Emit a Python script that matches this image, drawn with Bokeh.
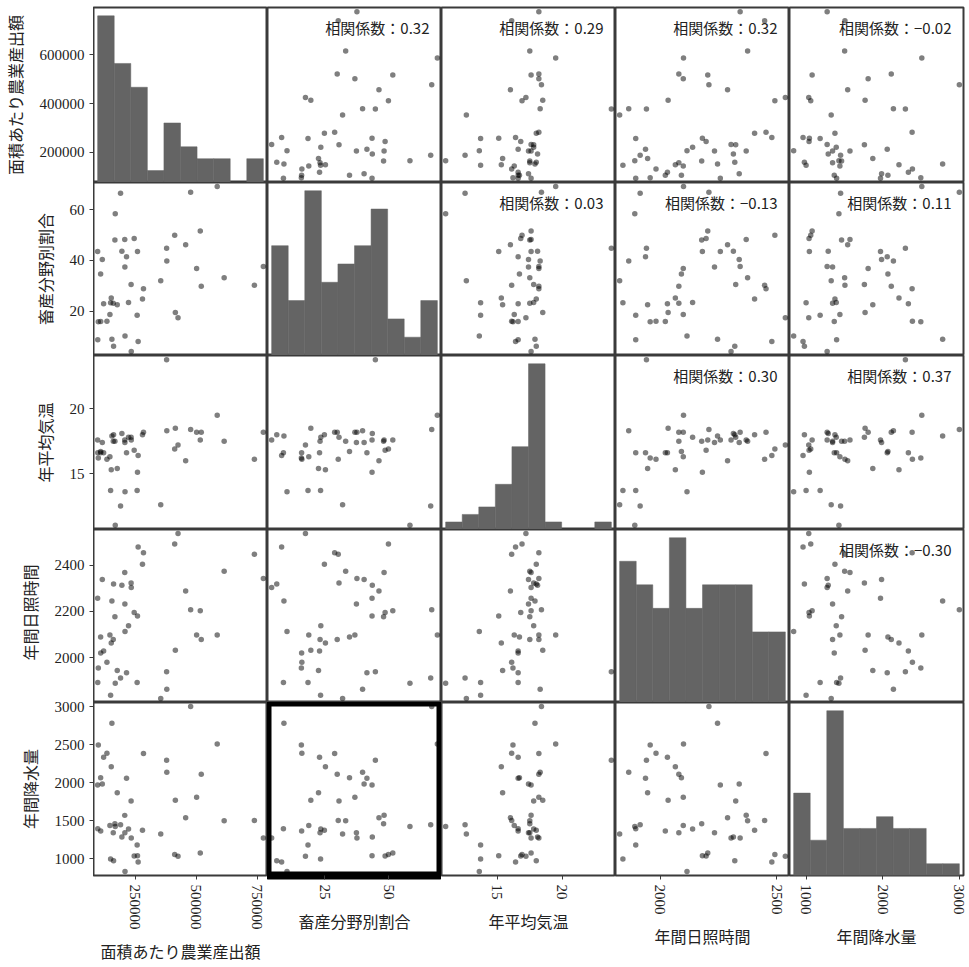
import numpy as np
from bokeh.plotting import figure
from bokeh.layouts import gridplot, row, column
from bokeh.models import Range1d, FixedTicker, PrintfTickFormatter, Label
from bokeh.embed import file_html
from bokeh.resources import INLINE

# ---------------- data ----------------
labels = ["面積あたり農業産出額", "畜産分野別割合", "年平均気温", "年間日照時間", "年間降水量"]

output_per_area = [94300, 94800, 97000, 106600, 106900, 113400, 118900, 132500, 144800, 147600,
                   150300, 153000, 158500, 159800, 165300, 166700, 174900, 188500, 194000, 205800,
                   206300, 206900, 213100, 221300, 231900, 232600, 244600, 256800, 258200, 260900,
                   278700, 282800, 353800, 378000, 378800, 411200, 413900, 424900, 456300, 476800,
                   501400, 516400, 520500, 586100, 614700, 739000, 775900]
livestock_share = [43.5, 8.9, 15.9, 34.7, 16.0, 40.4, 23.0, 16.1, 18.8, 23.4,
                   25.3, 9.1, 23.2, 6.3, 48.0, 58.3, 22.6, 66.4, 43.6, 48.2,
                   37.4, 10.3, 41.5, 23.5, 30.6, 4.3, 48.6, 18.5, 43.5, 8.2,
                   24.9, 28.9, 32.0, 44.8, 39.8, 49.9, 19.6, 17.5, 46.2, 66.8,
                   36.8, 51.6, 29.9, 69.0, 33.2, 30.3, 37.6]
avg_temp = [17.6, 16.6, 16.2, 16.7, 16.6, 17.4, 16.6, 16.1, 16.3, 13.7,
            15.3, 17.9, 17.5, 18.0, 17.5, 11.0, 15.4, 12.5, 18.1, 17.6,
            17.4, 13.6, 16.6, 17.8, 17.8, 17.6, 16.8, 13.7, 15.1, 16.4,
            18.0, 18.2, 12.6, 23.8, 18.3, 16.9, 18.5, 17.2, 16.0, 18.4,
            18.2, 17.6, 18.2, 19.5, 17.5, 16.1, 18.2]
sunshine = [2257, 1894, 1956, 2090, 2021, 2338, 2030, 1981, 2098, 1839,
            2064, 2245, 2079, 2319, 2177, 1890, 1945, 1913, 2313, 2368,
            2232, 2114, 1936, 2138, 2323, 2303, 2196, 1894, 2180, 2478,
            2404, 2453, 1825, 1940, 1864, 2491, 2033, 2536, 2288, 2208,
            2098, 2203, 2079, 2099, 2374, 2447, 2342]
precipitation = [1971, 1396, 2499, 2068, 1365, 1985, 2336, 2389, 1439, 996,
                 2213, 2785, 1343, 974, 1461, 1426, 1870, 1448, 1286, 1571,
                 1343, 833, 2059, 1391, 1760, 1272, 1035, 1180, 1039, 956,
                 1374, 2385, 1325, 2297, 2140, 1057, 1769, 1031, 1541, 3004,
                 1809, 1075, 2112, 2512, 1501, 1505, 1272]

series = [output_per_area, livestock_share, avg_temp, sunshine, precipitation]

x_ticks = [[250000, 500000, 750000], [25, 50], [15, 20], [2000, 2500], [1000, 2000, 3000]]
y_ticks = [[200000, 400000, 600000], [20, 40, 60], [15, 20], [2000, 2200, 2400],
           [1000, 1500, 2000, 2500, 3000]]

corr_prefix = "相関係数："
corr_values = ["0.32", "0.29", "0.32", "−0.02", "0.03", "−0.13", "0.11", "0.30", "0.37", "−0.30"]

# ---------------- layout / style ----------------
FRAME_W = [174, 174, 174, 174, 174]
FRAME_H = [175, 173, 174, 173, 173]
LEFT, TOP, RIGHT, BOTTOM = 93, 7, 6, 92
SHIFT = 7   # room above the last row's top tick label (taken from the axis strip of the row above)
JP = "Noto Sans CJK JP"
NUM = "Liberation Serif"
BAR = "#646464"
EDGE = "#3a3a3a"
TXT = "#222222"


def style_axis(ax, ticks, label):
    ax.ticker = FixedTicker(ticks=ticks)
    ax.formatter = PrintfTickFormatter(format="%d")
    ax.major_label_text_font = NUM
    ax.major_label_text_font_size = "15px"
    ax.major_label_text_color = TXT
    ax.major_label_standoff = 5
    ax.axis_line_color = None
    ax.major_tick_line_color = EDGE
    ax.major_tick_line_width = 1
    ax.major_tick_out = 4
    ax.major_tick_in = 0
    ax.minor_tick_line_color = None
    ax.axis_label = label
    ax.axis_label_text_font = JP
    ax.axis_label_text_font_size = "16px"
    ax.axis_label_text_font_style = "normal"
    ax.axis_label_text_color = TXT
    ax.axis_label_standoff = 10


n = len(series)
lims = []
for s in series:
    a = np.asarray(s, dtype=float)
    lo, hi = a.min(), a.max()
    r = hi - lo
    lims.append((lo - 0.025 * r, hi + 0.025 * r))

# ---------- left strip: one y-axis per row ----------
axis_figs = []
for i in range(n):
    fh = FRAME_H[i]
    lo, hi = lims[i]
    top_b = TOP if i == 0 else 0
    bot_b = 0
    if i == n - 2:           # row above the last: its strip ends SHIFT px early
        fh = FRAME_H[i] - SHIFT
        lo = hi - (hi - lo) * fh / FRAME_H[i]
    if i == n - 1:
        top_b = SHIFT
        bot_b = BOTTOM
    a = figure(width=LEFT, height=fh + top_b + bot_b, x_range=Range1d(0, 1), y_range=Range1d(lo, hi),
               output_backend="svg", toolbar_location=None,
               x_axis_location=None, y_axis_location="left",
               min_border_left=LEFT - 1, min_border_right=0,
               min_border_top=top_b, min_border_bottom=bot_b)
    for g in a.grid:
        g.visible = False
    a.outline_line_color = None
    a.background_fill_color = "white"
    a.border_fill_color = "white"
    style_axis(a.yaxis[0], y_ticks[i], labels[i])
    axis_figs.append(a)

# ---------- the matrix ----------
corr_iter = iter(corr_values)
rows = []
for i in range(n):
    cells = []
    for j in range(n):
        w = FRAME_W[j] + (RIGHT if j == n - 1 else 0)
        h = FRAME_H[i] + (TOP if i == 0 else 0) + (BOTTOM if i == n - 1 else 0)
        xr = Range1d(*lims[j])
        if i == j:
            counts, edges = np.histogram(np.asarray(series[i], dtype=float), bins=10)
            yr = Range1d(0, counts.max() * 1.05)
        else:
            yr = Range1d(*lims[i])
        p = figure(width=w, height=h, x_range=xr, y_range=yr,
                   output_backend="svg", toolbar_location=None,
                   x_axis_location="below" if i == n - 1 else None,
                   y_axis_location=None,
                   min_border_left=0,
                   min_border_right=RIGHT if j == n - 1 else 0,
                   min_border_top=TOP if i == 0 else 0,
                   min_border_bottom=BOTTOM if i == n - 1 else 0)
        for g in p.grid:
            g.visible = False
        p.background_fill_color = "white"
        p.border_fill_color = "white"
        p.outline_line_color = EDGE
        p.outline_line_width = 2

        if i == j:
            p.quad(left=edges[:-1], right=edges[1:], bottom=0, top=counts,
                   fill_color=BAR, line_color=BAR, line_width=0.5)
        else:
            p.scatter(series[j], series[i], size=5.5, color="black", alpha=0.5, line_color=None)

        if i == n - 1:
            style_axis(p.xaxis[0], x_ticks[j], labels[j])
            p.xaxis[0].major_label_orientation = "vertical"
            p.xaxis[0].axis_label_standoff = 6

        if i < j:
            p.add_layout(Label(x=lims[j][1], y=lims[i][1], x_offset=-12, y_offset=-9,
                               text=corr_prefix + next(corr_iter),
                               text_align="right", text_baseline="top",
                               text_font=JP, text_font_size="15px", text_color=TXT))
        if i == 4 and j == 1:
            p.outline_line_color = "black"
            p.outline_line_width = 8
        cells.append(p)
    rows.append(cells)

matrix = gridplot(rows, toolbar_location=None)
layout = row(column(*axis_figs, spacing=0), matrix, spacing=0)
open("out.html", "w").write(file_html(layout, INLINE, title="scatter matrix"))
